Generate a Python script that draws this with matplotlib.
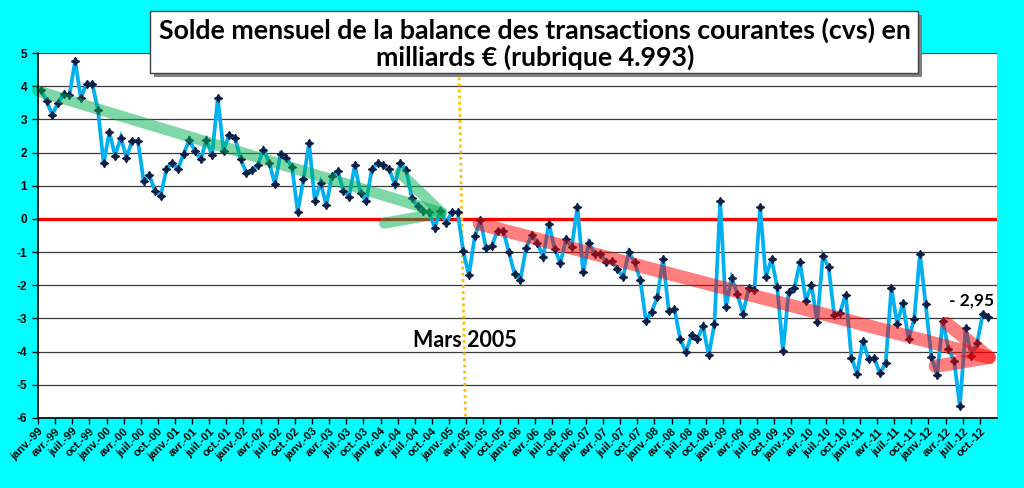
import numpy as np
import matplotlib
matplotlib.use("Agg")
import matplotlib.pyplot as plt
from matplotlib.patches import Rectangle

# ---------------- data (monthly, janv-99 .. nov-12) ----------------
y1999 = [3.89, 3.55, 3.14, 3.49, 3.77, 3.72, 4.77, 3.64, 4.08, 4.08, 3.29, 1.67]
y2000 = [2.62, 1.90, 2.45, 1.85, 2.36, 2.35, 1.15, 1.32, 0.84, 0.69, 1.51, 1.70]
y2001 = [1.49, 1.95, 2.39, 2.04, 1.80, 2.37, 1.92, 3.64, 2.06, 2.54, 2.45, 1.80]
y2002 = [1.39, 1.46, 1.62, 2.09, 1.70, 1.05, 1.97, 1.85, 1.55, 0.22, 1.19, 2.29]
y2003 = [0.54, 1.09, 0.42, 1.29, 1.44, 0.85, 0.67, 1.62, 0.77, 0.54, 1.51, 1.68]
y2004 = [1.61, 1.51, 1.04, 1.68, 1.47, 0.62, 0.38, 0.23, 0.21, -0.27, 0.25, -0.12]
y2005 = [0.20, 0.21, -0.98, -1.70, -0.53, -0.04, -0.89, -0.81, -0.36, -0.35, -1.01, -1.67]
y2006 = [-1.83, -0.89, -0.47, -0.72, -1.15, -0.14, -0.90, -1.33, -0.62, -0.85, 0.36, -1.61]
y2007 = [-0.72, -1.05, -1.05, -1.30, -1.28, -1.51, -1.75, -1.00, -1.31, -1.83, -3.07, -2.80]
y2008 = [-2.36, -1.20, -2.78, -2.72, -3.62, -4.02, -3.49, -3.61, -3.24, -4.11, -3.17, 0.55]
y2009 = [-2.66, -1.78, -2.25, -2.86, -2.08, -2.13, 0.36, -1.75, -1.21, -2.05, -3.99, -2.21]
y2010 = [-2.08, -1.30, -2.46, -2.00, -3.11, -1.11, -1.46, -2.91, -2.83, -2.28, -4.18, -4.67]
y2011 = [-3.67, -4.22, -4.20, -4.65, -4.35, -2.07, -3.17, -2.53, -3.62, -3.01, -1.05, -2.57]
y2012 = [-4.15, -4.70, -3.08, -3.92, -4.28, -5.65, -3.28, -4.12, -3.75, -2.87, -2.95]

years = ["99", "00", "01", "02", "03", "04", "05", "06", "07", "08", "09", "10", "11", "12"]
months = ["janv.", "févr.", "mars", "avr.", "mai", "juin",
          "juil.", "août", "sept.", "oct.", "nov.", "déc."]
label_months = ["janv.", "avr.", "juil.", "oct."]
y_ticks = [5, 4, 3, 2, 1, 0, -1, -2, -3, -4, -5, -6]

title = "Solde mensuel de la balance des transactions courantes (cvs) en\nmilliards € (rubrique 4.993)"
event_label = "Mars 2005"
last_label = "- 2,95"

values = np.array(y1999 + y2000 + y2001 + y2002 + y2003 + y2004 + y2005 +
                  y2006 + y2007 + y2008 + y2009 + y2010 + y2011 + y2012)
n_cat = 12 * len(years)
x = np.arange(len(values))
tick_labels = [f"{m}-{yy}" for yy in years for m in label_months]

# ---------------- figure ----------------
W, H = 1024, 488
fig = plt.figure(figsize=(W / 100, H / 100), dpi=100)
fig.patch.set_facecolor("#00FFFF")

def fx(px):
    return px / W

def fy(py):
    return 1 - py / H

ax = fig.add_axes([fx(38), fy(418), fx(997) - fx(38), fy(53) - fy(418)])
ax.set_facecolor("white")
ax.set_xlim(-0.5, n_cat - 0.5)
ax.set_ylim(-6, 5)

for v in y_ticks:
    if v != 0:
        ax.axhline(v, color="#3a3a3a", lw=0.9, zorder=1)
ax.axhline(0, color="#FF0000", lw=2.4, zorder=2)

# Mars 2005 dotted line (slightly slanted as in the reference)
i_mars = 12 * 6 + 2
ax.plot([i_mars - 0.8, i_mars + 0.4], [5, -6], color="#FFC000", lw=2.0,
        ls=(0, (1, 1.2)), zorder=2)

ax.plot(x, values, color="#00B0F0", lw=2.7, zorder=3, solid_joinstyle="miter")
ax.plot(x, values, ls="none", marker=(4, 1, 0), ms=6, color="#0d1f45",
        mec="#0d1f45", mew=0.9, zorder=4)

# trend arrows
ax.annotate("", xy=(72.2, 0.08), xytext=(-0.6, 3.86),
            arrowprops=dict(arrowstyle="->,head_length=3.7,head_width=1.9",
                            color="#00B050", alpha=0.5, lw=8.0,
                            mutation_scale=10, shrinkA=0, shrinkB=0),
            zorder=5, annotation_clip=False)
ax.annotate("", xy=(168.9, -4.3), xytext=(76.8, -0.15),
            arrowprops=dict(arrowstyle="->,head_length=3.6,head_width=1.6",
                            color="#FF0000", alpha=0.5, lw=9.5,
                            mutation_scale=10, shrinkA=0, shrinkB=0),
            zorder=5, annotation_clip=False)

# axes styling
for s in ["top", "right"]:
    ax.spines[s].set_visible(False)
for s in ["left", "bottom"]:
    ax.spines[s].set_color("black")
    ax.spines[s].set_linewidth(1.2)
    ax.spines[s].set_zorder(6)

ax.set_yticks(y_ticks)
ax.set_yticklabels([str(v) for v in y_ticks], fontsize=8.5, fontweight="bold",
                   family="Liberation Sans")
ax.set_xticks(np.arange(0, n_cat, 3) - 0.5)
ax.set_xticklabels(tick_labels, rotation=45, ha="right", va="top",
                   rotation_mode="anchor", fontsize=8.0, fontweight="bold",
                   family="Liberation Sans")
ax.tick_params(axis="x", direction="out", length=4, width=1, pad=2, colors="black")
ax.tick_params(axis="y", direction="out", length=4, width=1, pad=4, colors="black")

# annotations
ax.text(i_mars + 0.2, -3.65, event_label, ha="center", va="center",
        fontsize=15.5, fontweight="bold", family="Lato", color="black", zorder=7)
ax.text(len(values) - 4.0, -2.45, last_label, ha="center", va="center",
        fontsize=12.5, fontweight="bold", family="Lato", color="black", zorder=7)

# title box with shadow
bx0, by0, bx1, by1 = 150, 11, 918, 73
fig.patches.append(Rectangle((fx(bx0 + 4), fy(by1 + 4)), fx(bx1 - bx0), fy(by0) - fy(by1),
                             transform=fig.transFigure, facecolor="#808080",
                             edgecolor="none", zorder=8))
fig.patches.append(Rectangle((fx(bx0), fy(by1)), fx(bx1 - bx0), fy(by0) - fy(by1),
                             transform=fig.transFigure, facecolor="white",
                             edgecolor="#404040", lw=1.0, zorder=9))
fig.text(fx(535), fy(44), title, ha="center", va="center", fontsize=19.3,
         fontweight="bold", family="Lato", linespacing=1.1, zorder=10)

fig.savefig("out.png", dpi=100, facecolor=fig.get_facecolor())
